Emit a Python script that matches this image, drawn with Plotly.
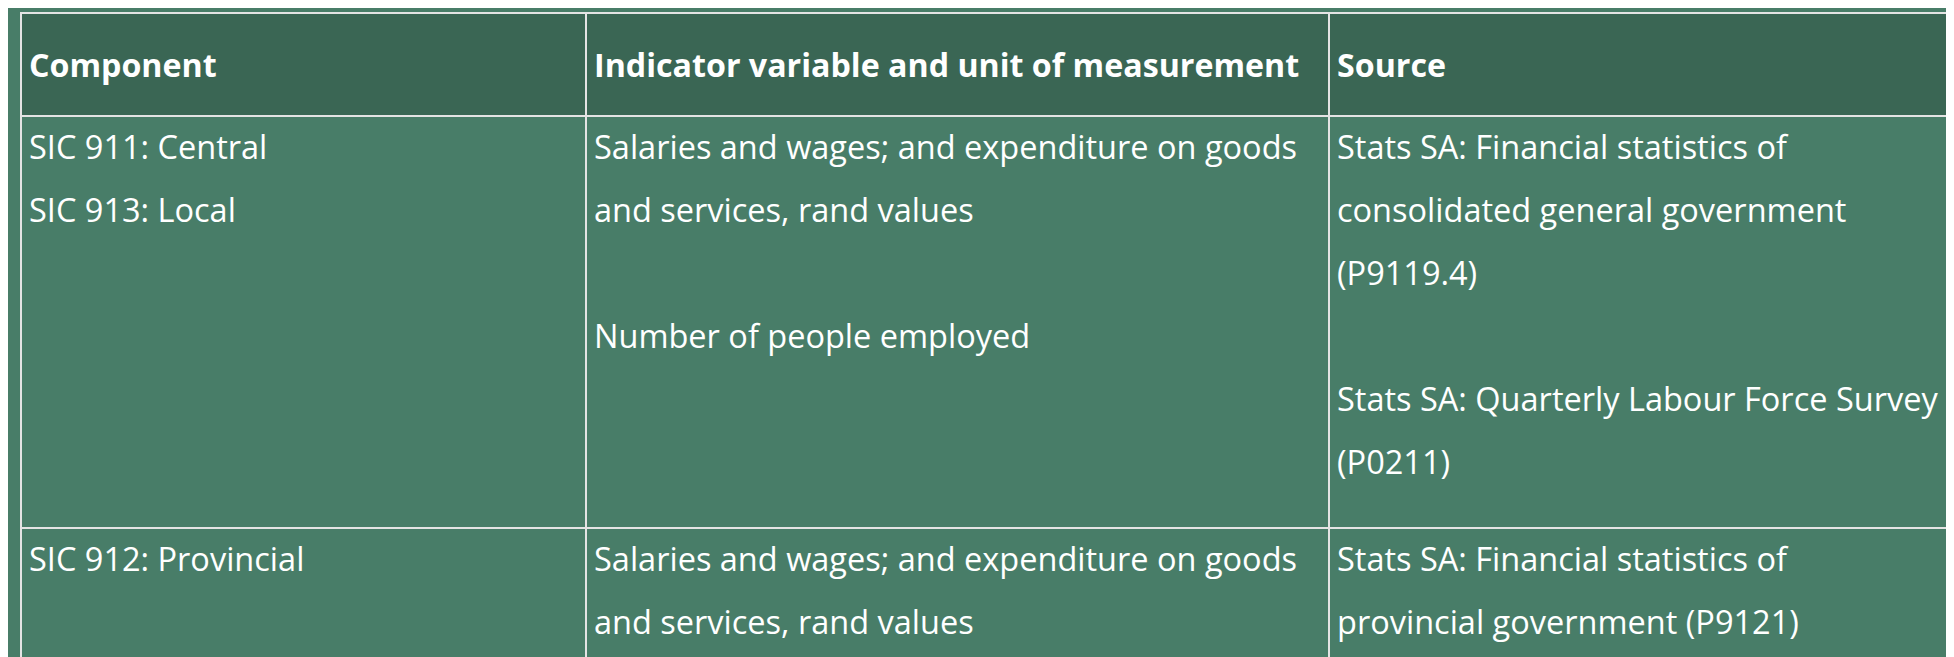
import plotly.graph_objects as go

# ---- data ----
header_labels = ["Component", "Indicator variable and unit of measurement", "Source"]
components = [
    ["SIC 911: Central", "SIC 913: Local"],
    ["SIC 912: Provincial", ""],
]
indicators = [
    ["Salaries and wages; and expenditure on goods", "and services, rand values", "", "Number of people employed"],
    ["Salaries and wages; and expenditure on goods", "and services, rand values"],
]
sources = [
    ["Stats SA: Financial statistics of", "consolidated general government", "(P9119.4)", "",
     "Stats SA: Quarterly Labour Force Survey", "(P0211)"],
    ["Stats SA: Financial statistics of", "provincial government (P9121)"],
]

# ---- style ----
FONT = "Open Sans"
TXT = 32.5
HEADER_BG = "#3a6654"
BODY_BG = "#487d68"
LINE = "#e4e4e4"


def cell_text(lines):
    return "<br>".join(
        f'<span style="font-size:{TXT}px">{l if l else "&nbsp;"}</span>' for l in lines
    )


def header_text(label):
    return f'&nbsp;<br><span style="font-size:32.2px"><b>{label}</b></span>'


fig = go.Figure(
    go.Table(
        columnwidth=[565, 743, 633],
        domain=dict(x=[13 / 1954, 1], y=[0, 1 - 5 / 657]),
        header=dict(
            values=[header_text(h) for h in header_labels],
            fill_color=HEADER_BG,
            line=dict(color=LINE, width=2),
            font=dict(family=FONT, size=23.7, color="white"),
            align="left",
            height=103,
        ),
        cells=dict(
            values=[
                [cell_text(c) for c in components],
                [cell_text(c) for c in indicators],
                [cell_text(c) for c in sources],
            ],
            fill_color=BODY_BG,
            line=dict(color=LINE, width=2),
            font=dict(family=FONT, size=48.5, color="white"),
            align="left",
            height=412,
        ),
    )
)

fig.update_layout(
    width=1954,
    height=657,
    margin=dict(l=0, r=0, t=0, b=0),
    paper_bgcolor=BODY_BG,
)

fig.write_html("out.html")
